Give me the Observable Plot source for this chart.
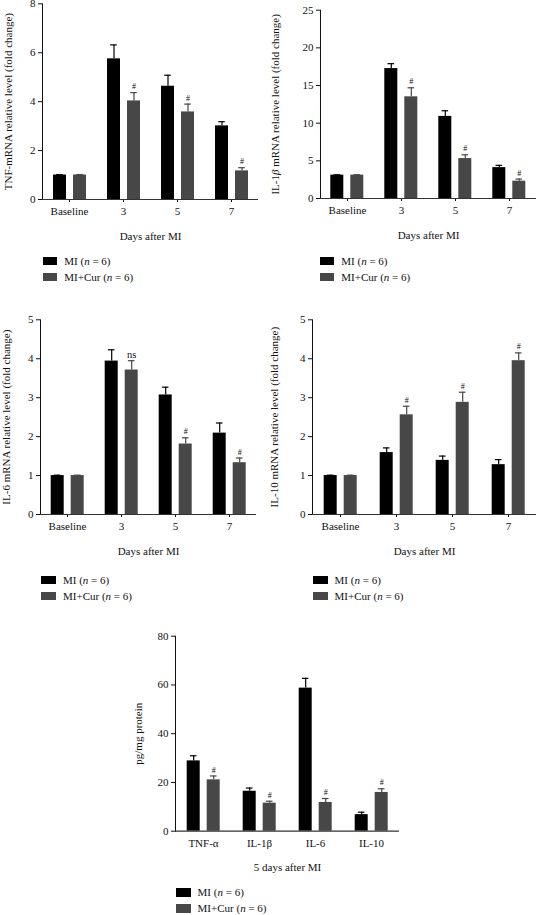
<!DOCTYPE html>
<html><head><meta charset="utf-8">
<script src="https://cdn.jsdelivr.net/npm/d3@7"></script>
<script src="https://cdn.jsdelivr.net/npm/@observablehq/plot@0.6"></script>
<style>
body{margin:0;background:#fff;}
#root{position:relative;width:538px;height:915px;overflow:hidden;font-family:"Liberation Serif",serif;}
.panel{position:absolute;}
.legend{position:absolute;font-size:11px;color:#111;line-height:13px;}
.legend .row{display:flex;align-items:center;height:13px;white-space:nowrap;margin-bottom:3px;}
.legend .sw{width:14.6px;height:8.5px;margin-right:7px;}
</style></head><body><div id="root"></div>
<script>
// ---- data ----
const seriesKeys = ["MI", "MI+Cur"];
const seriesColors = ["#000000", "#474747"];
const days = ["Baseline", "3", "5", "7"];
const cytokines = ["TNF-α", "IL-1β", "IL-6", "IL-10"];

const tnfMI = [1.0, 5.75, 4.63, 3.01];
const tnfMIErr = [0.02, 0.57, 0.45, 0.17];
const tnfCur = [1.0, 4.03, 3.58, 1.17];
const tnfCurErr = [0.02, 0.34, 0.32, 0.13];
const tnfAnn = ["", "#", "#", "#"];

const il1MI = [3.1, 17.25, 10.9, 4.1];
const il1MIErr = [0.05, 0.65, 0.75, 0.3];
const il1Cur = [3.1, 13.5, 5.3, 2.3];
const il1CurErr = [0.05, 1.2, 0.5, 0.28];
const il1Ann = ["", "#", "#", "#"];

const il6MI = [1.0, 3.94, 3.07, 2.09];
const il6MIErr = [0.01, 0.29, 0.2, 0.26];
const il6Cur = [1.0, 3.71, 1.81, 1.33];
const il6CurErr = [0.01, 0.24, 0.16, 0.12];
const il6Ann = ["", "ns", "#", "#"];

const il10MI = [1.0, 1.59, 1.39, 1.28];
const il10MIErr = [0.01, 0.12, 0.11, 0.13];
const il10Cur = [1.0, 2.56, 2.88, 3.95];
const il10CurErr = [0.01, 0.22, 0.26, 0.2];
const il10Ann = ["", "#", "#", "#"];

const protMI = [28.85, 16.4, 58.7, 6.8];
const protMIErr = [2.1, 1.3, 4.0, 1.0];
const protCur = [21.06, 11.5, 11.8, 15.9];
const protCurErr = [1.6, 0.8, 1.6, 1.5];
const protAnn = ["#", "#", "#", "#"];

const yTicksTnf = [0, 2, 4, 6, 8];
const yTicksIl1 = [0, 5, 10, 15, 20, 25];
const yTicksFive = [0, 1, 2, 3, 4, 5];
const yTicksProt = [0, 20, 40, 60, 80];

const root = document.getElementById("root");

function panel(cfg) {
  const rows = [];
  cfg.cats.forEach((c, i) => {
    rows.push({cat: c, s: "MI", v: cfg.mi[i], e: cfg.miErr[i], ann: ""});
    rows.push({cat: c, s: "MI+Cur", v: cfg.cur[i], e: cfg.curErr[i], ann: cfg.ann[i]});
  });
  const top = d => d.v + d.e;
  const fig = Plot.plot({
    width: cfg.width, height: cfg.height,
    marginLeft: cfg.ml, marginRight: cfg.mr, marginTop: cfg.mt, marginBottom: cfg.mb,
    style: {fontFamily: '"Liberation Serif", serif', fontSize: "11px", color: "#111", background: "transparent", overflow: "visible"},
    fx: {domain: cfg.cats, padding: 0, axis: "bottom", tickSize: cfg.xTickSize, tickPadding: cfg.xTickPadding,
         label: cfg.xLabel, labelAnchor: "center", labelOffset: cfg.xLabelOffset},
    x: {domain: seriesKeys, axis: null, paddingInner: 0.35, paddingOuter: 0.525},
    y: {domain: cfg.yDomain, ticks: cfg.yTicks, tickSize: 4, tickPadding: 3, line: true, tickFormat: d => String(d),
        label: cfg.yLabel, labelAnchor: "center", labelOffset: cfg.yLabelOffset, labelArrow: "none"},
    color: {domain: seriesKeys, range: seriesColors},
    marks: [
      Plot.ruleX(rows, {fx: "cat", x: "s", y1: "v", y2: top, stroke: "s", strokeWidth: 1.2}),
      Plot.tickY(rows, {fx: "cat", x: "s", y: top, stroke: "s", strokeWidth: 1.2, insetLeft: 3.2, insetRight: 3.2}),
      Plot.barY(rows, {fx: "cat", x: "s", y: "v", fill: "s"}),
      Plot.text(rows.filter(d => d.ann), {fx: "cat", x: "s", y: top, text: "ann", dy: -6,
        fontSize: d => d.ann === "ns" ? 10.5 : 8, fill: "#111"}),
      Plot.ruleY([0], {stroke: "#333", strokeWidth: 1.2})
    ]
  });
  fig.classList.add("panel");
  fig.style.left = cfg.left + "px";
  fig.style.top = cfg.top + "px";
  if (cfg.italicLabel) {
    fig.querySelectorAll("text").forEach(t => {
      if (t.textContent === cfg.yLabel) t.innerHTML = cfg.italicLabel;
    });
  }
  root.appendChild(fig);
}

function legend(left, top) {
  const div = document.createElement("div");
  div.className = "legend";
  div.style.left = left + "px";
  div.style.top = top + "px";
  seriesKeys.forEach((k, i) => {
    const row = document.createElement("div");
    row.className = "row";
    const sw = document.createElement("span");
    sw.className = "sw";
    sw.style.background = seriesColors[i];
    const lab = document.createElement("span");
    lab.innerHTML = k + " (<i>n</i> = 6)";
    row.appendChild(sw); row.appendChild(lab);
    div.appendChild(row);
  });
  root.appendChild(div);
}

// top-left: TNF
panel({cats: days, mi: tnfMI, miErr: tnfMIErr, cur: tnfCur, curErr: tnfCurErr, ann: tnfAnn,
  left: 0, top: -10, width: 268, height: 234, ml: 41, mr: 9, mt: 13.3, mb: 25,
  yDomain: [0, 8], yTicks: yTicksTnf, yLabel: "TNF-mRNA relative level (fold change)", yLabelOffset: 38.5,
  xLabel: "Days after MI", xLabelOffset: 40, xTickSize: 3, xTickPadding: 5});
legend(42.7, 254.5);

// top-right: IL-1β
panel({cats: days, mi: il1MI, miErr: il1MIErr, cur: il1Cur, curErr: il1CurErr, ann: il1Ann,
  left: 268, top: -10, width: 270, height: 233, ml: 50.7, mr: 1.3, mt: 19.7, mb: 25,
  yDomain: [0, 25], yTicks: yTicksIl1, yLabel: "IL-1β mRNA relative level (fold change)", yLabelOffset: 49,
  italicLabel: 'IL-1<tspan font-style="italic">β</tspan> mRNA relative level (fold change)',
  xLabel: "Days after MI", xLabelOffset: 40, xTickSize: 3, xTickPadding: 5});
legend(319.7, 254.5);

// middle-left: IL-6
panel({cats: days, mi: il6MI, miErr: il6MIErr, cur: il6Cur, curErr: il6CurErr, ann: il6Ann,
  left: 0, top: 280, width: 268, height: 259, ml: 40.3, mr: 11.3, mt: 39.3, mb: 25,
  yDomain: [0, 5], yTicks: yTicksFive, yLabel: "IL-6 mRNA relative level (fold change)", yLabelOffset: 38,
  xLabel: "Days after MI", xLabelOffset: 40, xTickSize: 3, xTickPadding: 5});
legend(41.4, 573.5);

// middle-right: IL-10
panel({cats: days, mi: il10MI, miErr: il10MIErr, cur: il10Cur, curErr: il10CurErr, ann: il10Ann,
  left: 268, top: 280, width: 270, height: 259, ml: 43.3, mr: 0.5, mt: 39.3, mb: 25,
  yDomain: [0, 5], yTicks: yTicksFive, yLabel: "IL-10 mRNA relative level (fold change)", yLabelOffset: 42,
  xLabel: "Days after MI", xLabelOffset: 40, xTickSize: 3, xTickPadding: 5});
legend(313, 573.5);

// bottom: protein
panel({cats: cytokines, mi: protMI, miErr: protMIErr, cur: protCur, curErr: protCurErr, ann: protAnn,
  left: 130, top: 600, width: 290, height: 256, ml: 43.3, mr: 19.3, mt: 35.7, mb: 25.3,
  yDomain: [0, 80], yTicks: yTicksProt, yLabel: "pg/mg protein", yLabelOffset: 41,
  xLabel: "5 days after MI", xLabelOffset: 40, xTickSize: 0, xTickPadding: 8});
legend(176, 886);
</script></body></html>
